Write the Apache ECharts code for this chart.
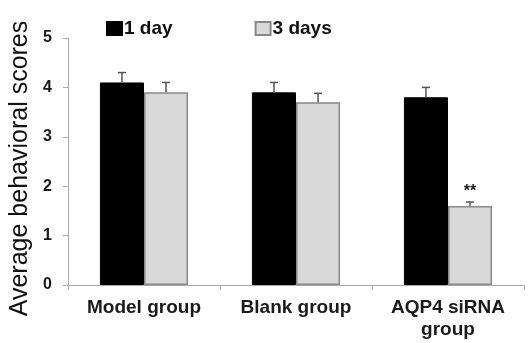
<!DOCTYPE html>
<html><head><meta charset="utf-8">
<script src="https://cdn.jsdelivr.net/npm/echarts@6/dist/echarts.min.js"></script>
<style>html,body{margin:0;padding:0;background:#fff}#c{width:529px;height:343px}</style>
</head><body><div id="c"></div>
<script>
const categories = ['Model group', 'Blank group', 'AQP4 siRNA\ngroup'];
const seriesNames = ['1 day', '3 days'];
const day1Values = [4.1, 3.9, 3.8];
const day3Values = [3.9, 3.7, 1.6];
const day1Errors = [0.2, 0.2, 0.2];
const day3Errors = [0.2, 0.18, 0.08];
const day3Marks = ['', '', '**'];
const yTicks = [0, 1, 2, 3, 4, 5];

const GAP = 0.42;
function errSeries(values, errors, marks, side) {
  return {
    type: 'custom', z: 5,
    data: values.map((v, i) => [i, v, errors[i]]),
    renderItem: function (params, api) {
      const i = api.value(0), v = api.value(1), e = api.value(2);
      const catW = api.size([1, 0])[0];
      const bw = catW * (1 - GAP) / 2;
      const c0 = api.coord([i, v]);
      const c1 = api.coord([i, v + e]);
      const x = c0[0] + side * bw / 2;
      const children = [
        {type: 'line', shape: {x1: x, y1: c0[1], x2: x, y2: c1[1]}, style: {stroke: '#555', lineWidth: 1.5}},
        {type: 'line', shape: {x1: x - 4, y1: c1[1], x2: x + 4, y2: c1[1]}, style: {stroke: '#555', lineWidth: 1.5}}
      ];
      const m = marks ? marks[i] : '';
      if (m) {
        children.push({type: 'text', style: {text: m, x: x, y: c1[1] - 2, align: 'center', verticalAlign: 'bottom',
          font: 'bold 16px "Liberation Sans", Arial, sans-serif', fill: '#222'}});
      }
      return {type: 'group', children: children};
    }
  };
}

const chart = echarts.init(document.getElementById('c'), null, {renderer: 'canvas'});
chart.setOption({
  backgroundColor: '#ffffff',
  animation: false,
  textStyle: {fontFamily: '"Liberation Sans", Arial, sans-serif'},
  legend: {
    data: [{name: seriesNames[0], icon: 'rect'}, {name: seriesNames[1], icon: 'rect'}],
    left: 101, top: 14, itemWidth: 15, itemHeight: 13, itemGap: 82,
    textStyle: {fontSize: 19, fontWeight: 'bold', color: '#111', padding: [0, 0, 0, -3]},
    selectedMode: false
  },
  grid: {left: 68, right: 5, top: 38, bottom: 58, containLabel: false, outerBoundsMode: 'none'},
  xAxis: {
    type: 'category', data: categories,
    axisLine: {lineStyle: {color: '#aaa', width: 1}},
    axisTick: {show: true, alignWithLabel: false, length: 5, lineStyle: {color: '#aaa'}},
    axisLabel: {fontSize: 19, fontWeight: 'bold', color: '#1a1a1a', margin: 12, lineHeight: 22, interval: 0}
  },
  yAxis: {
    type: 'value', min: yTicks[0], max: yTicks[yTicks.length - 1], interval: 1,
    name: 'Average behavioral scores', nameLocation: 'middle', nameGap: 34,
    nameTextStyle: {fontSize: 25, color: '#111', padding: [0, 14, 0, 0]},
    axisLine: {show: true, lineStyle: {color: '#aaa', width: 1}},
    axisTick: {show: true, length: 5, lineStyle: {color: '#aaa'}},
    splitLine: {show: false},
    axisLabel: {fontSize: 16, fontWeight: 'bold', color: '#1a1a1a', margin: 16}
  },
  series: [
    {name: seriesNames[0], type: 'bar', data: day1Values, barGap: '0%', barCategoryGap: (GAP * 100) + '%',
     itemStyle: {color: '#000', borderColor: '#000', borderWidth: 1}},
    {name: seriesNames[1], type: 'bar', data: day3Values, barGap: '0%', barCategoryGap: (GAP * 100) + '%',
     itemStyle: {color: '#d9d9d9', borderColor: '#888', borderWidth: 1.5}},
    errSeries(day1Values, day1Errors, null, -1),
    errSeries(day3Values, day3Errors, day3Marks, 1)
  ]
});
</script></body></html>
